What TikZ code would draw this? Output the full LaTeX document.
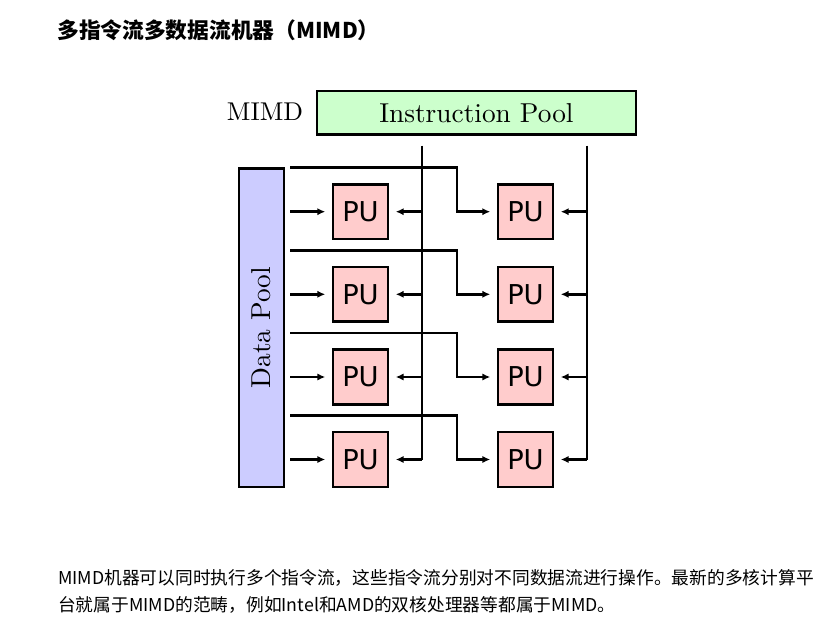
\documentclass[tikz,border=0pt]{standalone}
\usepackage{fontspec}
\usetikzlibrary{arrows.meta}
\newfontfamily\cjk{Noto Sans CJK SC}
\newfontfamily\pufont{DejaVu Sans}
\newfontfamily\cmten{lmroman10-regular.otf}
\definecolor{ipoolcol}{RGB}{204,255,204}
\definecolor{dpoolcol}{RGB}{204,204,255}
\definecolor{pucol}{RGB}{255,204,204}
\tikzset{
	bus/.style={line width=1.8pt},
	feed/.style={line width=1.8pt, -{Latex[length=6pt,width=5.5pt]}, shorten >=5pt},
	pool/.style={draw, line width=1.8pt, inner sep=0pt, font=\cmten\fontsize{20.5}{24}\selectfont},
	pu/.style={draw, line width=1.8pt, fill=pucol, minimum size=41pt, inner sep=0pt, font=\pufont\fontsize{20.5}{24}\selectfont}
}
\begin{document}
\begin{tikzpicture}[x=0.75pt,y=-0.75pt]
	\useasboundingbox (0,0) rectangle (833,642);
	% texts round the diagram
	\node[anchor=west, inner sep=0pt, font=\cjk\bfseries\fontsize{16.3}{19}\selectfont] (title) at (57,30) {多指令流多数据流机器（MIMD）};
	\node[anchor=west, inner sep=0pt, font=\cjk\fontsize{13.3}{16}\selectfont] (line1) at (58,578) {MIMD机器可以同时执行多个指令流，这些指令流分别对不同数据流进行操作。最新的多核计算平};
	\node[anchor=west, inner sep=0pt, font=\cjk\fontsize{13.3}{16}\selectfont] (line2) at (58,605) {台就属于MIMD的范畴，例如Intel和AMD的双核处理器等都属于MIMD。};
	% pools
	\node[font=\cmten\fontsize{19.3}{22}\selectfont] (mimd) at (265,112) {MIMD};
	\node[pool, fill=ipoolcol, minimum width=239.5pt, minimum height=32.5pt] (ipool) at (476.4,112.7) {Instruction Pool};
	\node[pool, fill=dpoolcol, minimum width=239pt, minimum height=33.75pt, rotate=90] (dpool) at (261.5,327.7) {Data Pool};
	% processing units
	\foreach \r/\y in {1/211.7,2/294.3,3/377,4/459.5}{
		\node[pu] (pu\r1) at (360.5,\y) {PU};
		\node[pu] (pu\r2) at (525.5,\y) {PU};
	}
	% instruction buses
	\draw[bus] (421.7,145.7) coordinate (bus1) -- (bus1 |- pu41);
	\draw[bus] (586.7,145.7) coordinate (bus2) -- (bus2 |- pu42);
	\foreach \r/\y in {1/211.7,2/294.3,3/377,4/459.5}{
		\draw[feed] (bus1 |- pu\r1) -- (pu\r1);
		\draw[feed] (bus2 |- pu\r2) -- (pu\r2);
		\draw[feed] ([xshift=3.75pt]dpool.south |- pu\r1) -- (pu\r1);
		\draw[feed] ([xshift=3.75pt]dpool.south |- 0,{\y-44}) -- (457,{\y-44}) -- (457,\y) -- (pu\r2);
	}
\end{tikzpicture}
\end{document}
